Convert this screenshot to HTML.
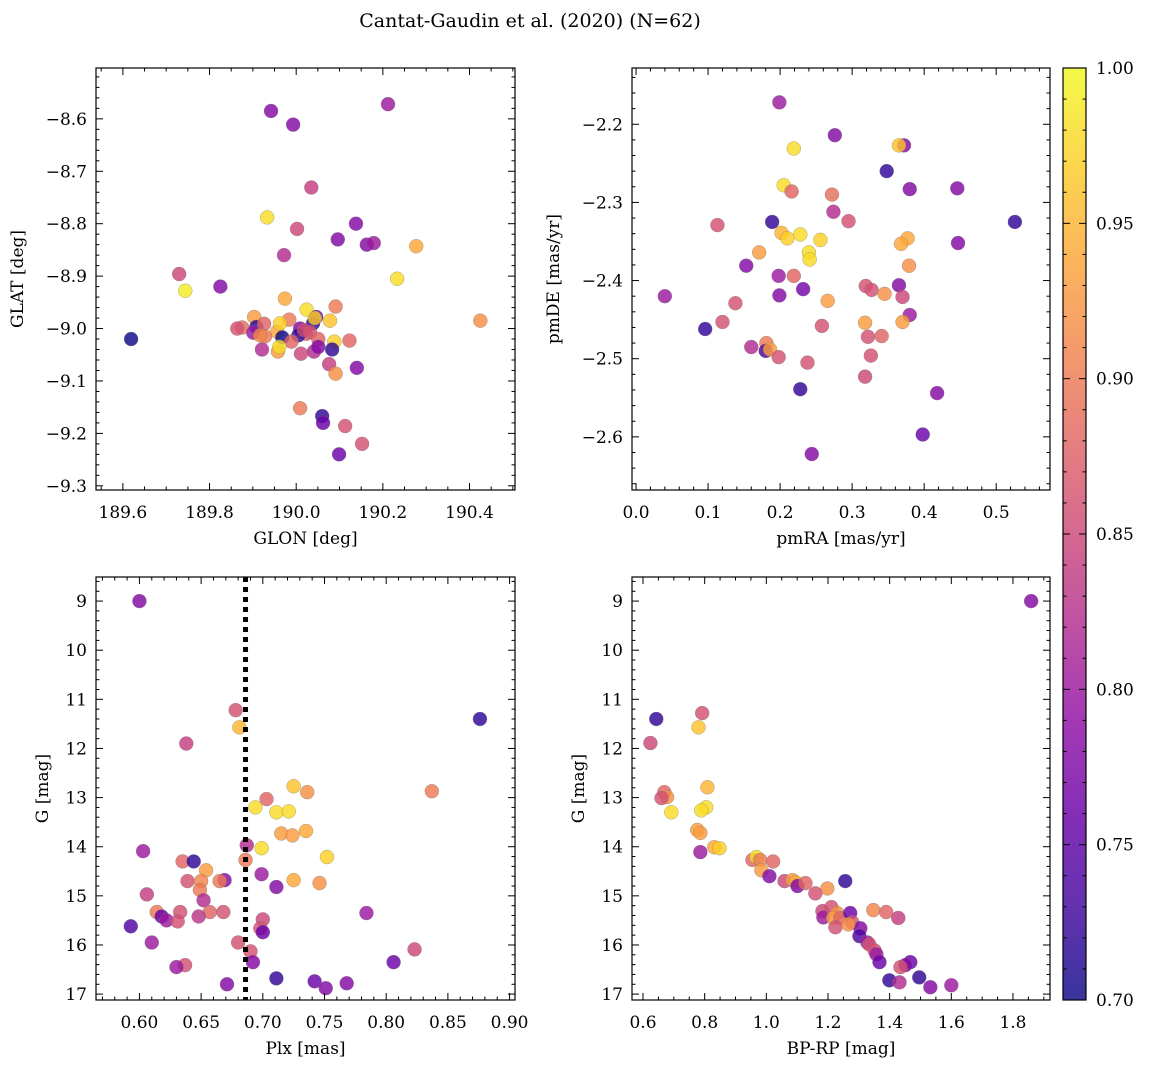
<!DOCTYPE html>
<html><head><meta charset="utf-8"><style>
body{margin:0;background:#fff}
svg{display:block;font-family:"DejaVu Serif","Liberation Serif",serif}
</style></head><body>
<svg id="fig" width="1149" height="1067" viewBox="0 0 1149 1067" xmlns="http://www.w3.org/2000/svg">
<defs><linearGradient id="cg" x1="0" y1="1" x2="0" y2="0"></linearGradient></defs>
<text x="530" y="27" font-size="19" text-anchor="middle">Cantat-Gaudin et al. (2020) (N=62)</text>
</svg>
<script>
// ---- data (top-left: GLON/GLAT)
const tlGlon=[189.942,189.993,190.212,190.035,189.933,190.138,190.002,189.972,190.096,190.163,190.179,190.277,190.233,189.730,189.744,189.825,189.619,190.425,190.091,190.024,189.974,189.903,190.046,190.039,189.875,189.908,189.926,189.956,189.984,190.009,190.023,190.005,189.968,189.989,190.018,190.032,189.901,189.928,190.051,190.088,190.123,189.921,189.958,190.011,190.041,190.051,190.083,190.076,190.091,190.140,190.009,190.060,190.062,190.113,190.152,190.099,190.043,189.963,189.961,190.078,189.917,189.864];
const tlGlat=[-8.585,-8.611,-8.572,-8.731,-8.788,-8.80,-8.81,-8.86,-8.83,-8.84,-8.837,-8.843,-8.905,-8.896,-8.928,-8.92,-9.02,-8.985,-8.958,-8.964,-8.943,-8.978,-8.978,-8.99,-8.998,-8.997,-8.991,-9.006,-8.983,-9.0,-9.01,-9.013,-9.017,-9.025,-9.003,-9.007,-9.008,-9.015,-9.02,-9.025,-9.023,-9.04,-9.044,-9.048,-9.044,-9.035,-9.04,-9.068,-9.086,-9.075,-9.152,-9.167,-9.18,-9.186,-9.22,-9.24,-8.98,-8.99,-9.035,-8.985,-9.013,-9.0];
const tlProb=[0.78,0.78,0.80,0.84,0.98,0.78,0.85,0.82,0.78,0.78,0.80,0.94,0.98,0.85,0.99,0.78,0.70,0.92,0.90,0.98,0.94,0.93,0.75,0.72,0.89,0.72,0.88,0.94,0.90,0.78,0.88,0.72,0.70,0.88,0.85,0.86,0.80,0.90,0.88,0.97,0.88,0.82,0.93,0.85,0.82,0.78,0.72,0.84,0.92,0.78,0.90,0.72,0.76,0.86,0.86,0.76,0.97,0.97,0.98,0.96,0.91,0.86];
// ---- top-right: pmRA/pmDE
const trPmra=[0.199,0.276,0.372,0.365,0.219,0.348,0.38,0.446,0.205,0.216,0.272,0.274,0.295,0.113,0.189,0.526,0.202,0.228,0.21,0.256,0.377,0.368,0.447,0.171,0.24,0.241,0.153,0.379,0.198,0.219,0.232,0.365,0.319,0.327,0.345,0.370,0.04,0.199,0.266,0.138,0.38,0.12,0.318,0.370,0.096,0.258,0.341,0.322,0.181,0.16,0.18,0.186,0.198,0.326,0.238,0.318,0.228,0.418,0.398,0.244];
const trPmde=[-2.172,-2.214,-2.227,-2.227,-2.231,-2.26,-2.283,-2.282,-2.278,-2.286,-2.29,-2.312,-2.324,-2.329,-2.325,-2.325,-2.339,-2.341,-2.346,-2.348,-2.346,-2.353,-2.352,-2.364,-2.364,-2.373,-2.381,-2.381,-2.394,-2.394,-2.411,-2.406,-2.407,-2.412,-2.417,-2.421,-2.42,-2.419,-2.426,-2.429,-2.444,-2.453,-2.454,-2.453,-2.462,-2.458,-2.471,-2.472,-2.48,-2.485,-2.49,-2.488,-2.498,-2.496,-2.505,-2.523,-2.539,-2.544,-2.597,-2.622];
const trProb=[0.80,0.78,0.78,0.96,0.98,0.72,0.78,0.78,0.98,0.88,0.89,0.82,0.86,0.86,0.72,0.72,0.95,0.98,0.97,0.97,0.94,0.94,0.78,0.93,0.98,0.98,0.78,0.92,0.80,0.88,0.77,0.78,0.86,0.86,0.92,0.85,0.80,0.78,0.93,0.86,0.80,0.86,0.93,0.93,0.72,0.86,0.88,0.86,0.90,0.82,0.74,0.93,0.86,0.86,0.86,0.85,0.72,0.78,0.76,0.78];
// ---- bottom-left: Plx/G
const blPlx=[0.600,0.876,0.678,0.681,0.638,0.725,0.837,0.736,0.703,0.694,0.711,0.721,0.735,0.715,0.724,0.687,0.699,0.603,0.752,0.635,0.644,0.686,0.654,0.699,0.669,0.639,0.650,0.665,0.725,0.746,0.711,0.649,0.606,0.652,0.614,0.633,0.657,0.668,0.784,0.618,0.648,0.622,0.700,0.631,0.593,0.698,0.700,0.610,0.680,0.823,0.690,0.692,0.806,0.637,0.630,0.711,0.742,0.768,0.671,0.751];
const blG=[9.0,11.4,11.22,11.57,11.9,12.77,12.87,12.89,13.03,13.2,13.3,13.28,13.68,13.73,13.77,13.97,14.03,14.09,14.21,14.3,14.3,14.27,14.48,14.56,14.68,14.7,14.7,14.7,14.68,14.74,14.82,14.88,14.97,15.09,15.33,15.33,15.33,15.33,15.35,15.42,15.42,15.5,15.48,15.52,15.62,15.66,15.74,15.95,15.95,16.09,16.13,16.35,16.35,16.41,16.45,16.68,16.74,16.78,16.8,16.88];
const blProb=[0.78,0.72,0.86,0.95,0.84,0.96,0.90,0.92,0.88,0.98,0.98,0.98,0.94,0.93,0.93,0.82,0.98,0.80,0.97,0.88,0.72,0.90,0.93,0.80,0.78,0.86,0.91,0.90,0.94,0.92,0.78,0.90,0.84,0.82,0.90,0.86,0.88,0.86,0.80,0.76,0.83,0.80,0.85,0.86,0.74,0.86,0.76,0.80,0.86,0.85,0.86,0.78,0.76,0.86,0.80,0.72,0.76,0.78,0.78,0.78];
const plxCut=0.686;
// ---- bottom-right: BP-RP/G
const brColor=[1.859,0.643,0.792,0.624,0.780,0.669,0.678,0.66,0.809,0.805,0.789,0.692,0.776,0.786,0.786,0.831,0.848,0.955,0.968,0.980,1.022,0.984,1.010,1.059,1.085,1.094,1.101,1.127,1.256,1.198,1.159,1.182,1.185,1.211,1.230,1.217,1.240,1.272,1.279,1.305,1.224,1.266,1.347,1.389,1.428,1.302,1.328,1.334,1.351,1.357,1.367,1.467,1.451,1.435,1.399,1.496,1.432,1.532,1.600];
const brG=[9.0,11.4,11.28,11.89,11.57,12.89,12.99,13.01,12.79,13.2,13.26,13.3,13.66,13.72,14.11,14.01,14.03,14.27,14.21,14.27,14.3,14.48,14.6,14.7,14.68,14.72,14.8,14.74,14.7,14.85,14.95,15.31,15.44,15.23,15.35,15.45,15.45,15.35,15.54,15.66,15.64,15.58,15.29,15.33,15.45,15.82,15.95,15.99,16.11,16.19,16.35,16.35,16.41,16.45,16.72,16.66,16.76,16.86,16.82];
const brProb=[0.78,0.72,0.86,0.85,0.96,0.88,0.92,0.86,0.95,0.98,0.98,0.98,0.93,0.93,0.80,0.94,0.97,0.88,0.98,0.90,0.88,0.93,0.78,0.85,0.93,0.94,0.78,0.88,0.72,0.92,0.86,0.85,0.80,0.86,0.92,0.93,0.88,0.76,0.86,0.78,0.86,0.92,0.91,0.88,0.84,0.74,0.80,0.86,0.86,0.80,0.76,0.76,0.78,0.86,0.72,0.72,0.82,0.78,0.80];
const cbTicks=[0.70,0.75,0.80,0.85,0.90,0.95,1.00];

const NS="http://www.w3.org/2000/svg";
const svg=document.getElementById('fig');
const stops=["#0d0887","#41049d","#6a00a8","#8f0da4","#b12a90","#cc4778","#e16462","#f2844b","#fca636","#fcce25","#f0f921"];
function hex(h){return [1,3,5].map(i=>parseInt(h.substr(i,2),16));}
function cmap(p){let t=(p-0.7)/0.3;t=Math.max(0,Math.min(1,t));const f=t*10,i=Math.min(9,Math.floor(f)),r=f-i;const a=hex(stops[i]),b=hex(stops[i+1]);return 'rgb('+a.map((v,k)=>Math.round(v+(b[k]-v)*r)).join(',')+')';}
function mk(tag,attrs,parent){const e=document.createElementNS(NS,tag);for(const k in attrs)e.setAttribute(k,attrs[k]);(parent||svg).appendChild(e);return e;}
function fmt(v,d){return (v<0?'\u2212':'')+Math.abs(v).toFixed(d);}

function panel(c,xs,ys,ps,name){
  const g=mk('g',{});
  
  
  const X=v=>c.L+(v-c.xmin)/(c.xmax-c.xmin)*(c.R-c.L);
  const Y=v=>c.B-(v-c.ymin)/(c.ymax-c.ymin)*(c.B-c.T);
  const pts=mk('g',{},g);
  
  
  for(let i=0;i<xs.length;i++){
    const p=mk('circle',{cx:X(xs[i]),cy:Y(ys[i]),r:7,fill:cmap(ps[i]),'fill-opacity':0.82,stroke:'#777','stroke-width':0.5,'stroke-opacity':0.6},pts);
    
    
  }
  if(c.vline!==undefined){
    const l=mk('line',{x1:X(c.vline),x2:X(c.vline),y1:c.T,y2:c.B,stroke:'#000','stroke-width':5,'stroke-dasharray':'5,5'},g);
    
    
  }
  const fr=mk('rect',{x:c.L,y:c.T,width:c.R-c.L,height:c.B-c.T,fill:'none',stroke:'#000','stroke-width':1.2},g);
  
  
  const ax=mk('g',{stroke:'#000','stroke-width':1},g);
  
  
  const eps=1e-9;
  // x ticks
  for(let v=Math.ceil((c.xmin-eps)/c.xmi)*c.xmi;v<=c.xmax+eps;v+=c.xmi){
    const major=Math.abs(v/c.xma-Math.round(v/c.xma))<1e-6;const len=major?7:3.5;const x=X(v);
    mk('line',{x1:x,x2:x,y1:c.B,y2:c.B-len},ax);mk('line',{x1:x,x2:x,y1:c.T,y2:c.T+len},ax);
    if(major){const t=mk('text',{x:x,y:c.B+28,'font-size':17,'text-anchor':'middle',stroke:'none'},g);t.textContent=fmt(v,c.xd);
      }
  }
  for(let v=Math.ceil((c.ymin-eps)/c.ymi)*c.ymi;v<=c.ymax+eps;v+=c.ymi){
    const major=Math.abs(v/c.yma-Math.round(v/c.yma))<1e-6;const len=major?7:3.5;const y=Y(v);
    mk('line',{x1:c.L,x2:c.L+len,y1:y,y2:y},ax);mk('line',{x1:c.R,x2:c.R-len,y1:y,y2:y},ax);
    if(major){const t=mk('text',{x:c.L-9,y:y+6,'font-size':17,'text-anchor':'end',stroke:'none'},g);t.textContent=fmt(v,c.yd);
      }
  }
  const xl=mk('text',{x:(c.L+c.R)/2,y:c.B+54,'font-size':17,'text-anchor':'middle'},g);xl.textContent=c.xl;
  
  const yx=c.L-c.ylOff, yy=(c.T+c.B)/2;
  const yl=mk('text',{x:yx,y:yy,'font-size':17,'text-anchor':'middle',transform:'rotate(-90 '+yx+' '+yy+')'},g);yl.textContent=c.yl;
  
}

panel({L:96,R:515,T:68,B:490,xmin:189.538,xmax:190.505,ymin:-9.308,ymax:-8.503,xma:0.2,xmi:0.05,yma:0.1,ymi:0.02,xd:1,yd:1,xl:'GLON [deg]',yl:'GLAT [deg]',ylOff:73},tlGlon,tlGlat,tlProb,'glon-glat');
panel({L:632,R:1050,T:68,B:490,xmin:-0.0056,xmax:0.5747,ymin:-2.668,ymax:-2.128,xma:0.1,xmi:0.02,yma:0.1,ymi:0.02,xd:1,yd:1,xl:'pmRA [mas/yr]',yl:'pmDE [mas/yr]',ylOff:73},trPmra,trPmde,trProb,'proper-motion');
panel({L:96,R:515,T:577,B:1000,xmin:0.5648,xmax:0.9044,ymin:-17.12,ymax:-8.51,xma:0.05,xmi:0.01,yma:1,ymi:0.2,xd:2,yd:0,xl:'Plx [mas]',yl:'G [mag]',ylOff:48,vline:plxCut},blPlx,blG.map(v=>-v),blProb,'parallax-mag');
panel({L:632,R:1050,T:577,B:1000,xmin:0.5643,xmax:1.9201,ymin:-17.12,ymax:-8.51,xma:0.2,xmi:0.05,yma:1,ymi:0.2,xd:1,yd:0,xl:'BP-RP [mag]',yl:'G [mag]',ylOff:48},brColor,brG.map(v=>-v),brProb,'cmd');
// fix negative G labels
document.querySelectorAll('text').forEach(t=>{if(/^\u2212\d+$/.test(t.textContent))t.textContent=t.textContent.slice(1);});

// colorbar
const grad=document.getElementById('cg');
for(let i=0;i<=10;i++){mk('stop',{offset:(i*10)+'%','stop-color':stops[i],'stop-opacity':0.82},grad);}
const cbT=68,cbB=1000,cbL=1063,cbR=1086;
const cb=mk('rect',{x:cbL,y:cbT,width:cbR-cbL,height:cbB-cbT,fill:'url(#cg)',stroke:'#000','stroke-width':1.2});


const CY=v=>cbB-(v-0.7)/0.3*(cbB-cbT);
for(let v=0.70;v<=1.0001;v+=0.01){const y=CY(v);const maj=Math.abs(v*20-Math.round(v*20))<1e-6;
  mk('line',{x1:cbR,x2:cbR-(maj?7:3.5),y1:y,y2:y,stroke:'#000'});mk('line',{x1:cbL,x2:cbL+(maj?7:3.5),y1:y,y2:y,stroke:'#000'});}
cbTicks.forEach(v=>{const t=mk('text',{x:cbR+10,y:CY(v)+6,'font-size':17});t.textContent=v.toFixed(2);
  
  });
</script>
</body></html>
